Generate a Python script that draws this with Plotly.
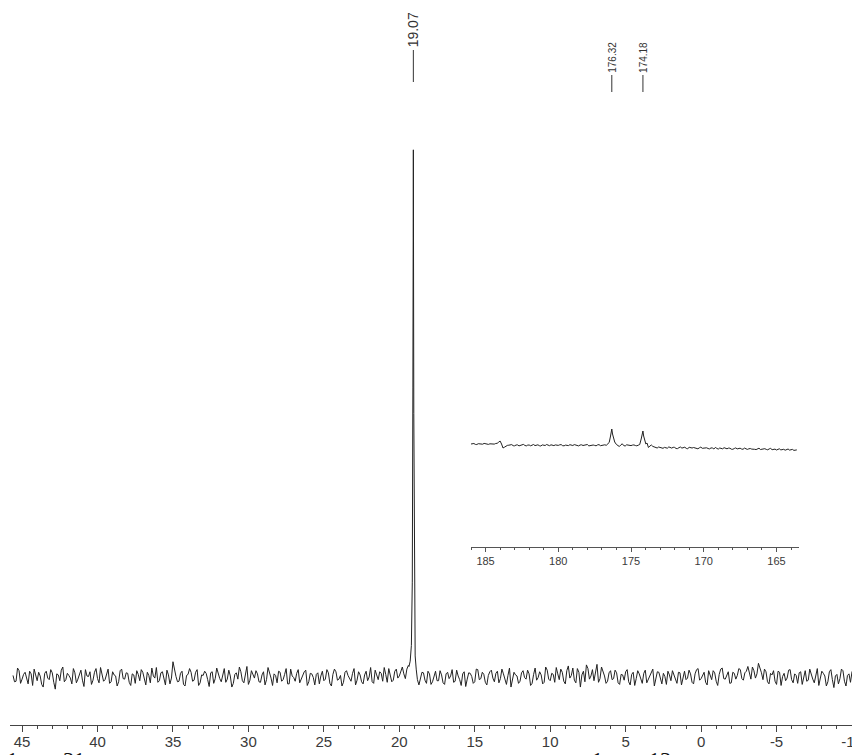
import plotly.graph_objects as go

# ---- main spectrum: hand-read noise on the sampling grid (start, step) ----
main_start = 45.6
main_step = -0.2
main_noise = [
    0.3,-0.8,1.2,-0.4,0.9,-1.3,0.6,1.5,-0.7,0.2,-1.9,1.1,-0.5,0.8,-2.3,0.4,1.3,-0.9,0.7,-0.2,
    1.6,-1.1,0.5,-0.6,1.4,0.1,-1.4,0.9,-0.3,1.8,-0.8,0.6,-1.2,1.0,0.2,-0.9,1.5,-0.4,0.7,-1.6,
    0.4,1.2,-0.7,0.9,-1.5,0.3,1.7,-0.2,-1.0,0.8,-0.5,1.3,-1.3,2.9,0.1,-0.8,1.1,-1.7,0.5,0.9,
    -0.6,1.4,-1.1,0.3,0.7,-1.8,1.0,-0.3,0.5,-0.9,1.6,-0.4,0.2,-1.2,0.8,1.9,-0.7,0.4,-1.4,1.2,
    -0.2,0.6,-1.0,1.0,-0.5,0.9,-1.6,0.3,1.1,-0.8,0.5,-1.3,1.5,-0.1,0.7,-1.1,0.2,1.3,-0.9,0.6,
    -1.5,0.8,0.2,-0.7,1.4,-1.2,0.5,1.0,-0.4,-1.7,0.9,0.3,-0.8,1.6,-0.6,0.4,-1.3,1.1,0.0,-0.9,
    1.3,-0.5,0.7,1.8,-1.0,0.4,-0.6,1.5,0.2,1.9,-0.3,2.2,3.5,0.0,0.0,-0.4,0.8,-1.2,0.6,-0.9,
    1.1,-0.7,0.4,-1.4,0.9,0.2,-1.0,1.3,-0.5,0.6,-1.8,0.8,0.1,-0.9,1.4,-0.3,0.5,-1.5,1.0,-0.2,
    0.7,-1.1,1.5,-0.6,0.3,-1.9,0.9,0.2,-0.8,1.2,-0.4,0.6,-1.2,1.7,-0.1,0.4,-1.0,1.3,-0.7,0.5,
    1.8,-0.5,0.9,-1.3,2.1,0.3,-0.6,1.6,-1.9,1.1,2.3,-0.4,1.4,0.6,-1.0,1.9,0.2,-0.8,1.2,-0.3,
    0.8,-1.4,0.4,1.0,-0.9,0.5,-1.6,1.2,-0.2,0.7,-1.1,0.3,1.5,-0.6,0.9,-1.3,0.1,1.1,-0.7,0.4,
    -1.2,0.8,0.2,-0.5,1.3,-1.0,0.6,1.6,-0.3,0.9,-1.5,0.4,1.2,-0.8,0.5,1.7,-0.4,1.0,-1.1,0.7,
    0.3,1.4,-0.6,1.1,0.5,1.9,-0.2,2.6,0.8,1.5,-0.9,0.7,1.2,-1.4,0.9,0.1,-0.7,1.3,-0.5,0.6,
    -1.2,1.0,0.3,-0.8,1.5,-0.4,0.7,-1.6,1.1,0.2,-0.9,1.4,-2.0,0.5,-0.3,1.2,-1.7,0.6,1.0,-0.4,
    1.4,
]
# intermediate samples (grid offset by half a step)
main_mid_start = 45.5
main_noise_mid = [
    -0.9,1.7,-1.2,0.5,-0.3,1.1,-1.6,0.4,0.9,-1.4,0.7,-0.2,1.4,-1.0,0.6,-0.7,1.9,-0.5,0.3,-1.3,
    0.8,-0.4,1.3,-1.8,0.2,1.0,-0.6,1.6,-1.1,0.3,-0.5,1.5,-0.9,0.4,-1.7,1.2,-0.3,0.8,-1.0,0.6,
    -1.2,0.5,1.4,-0.6,0.9,-1.1,0.2,1.8,-0.7,1.0,-1.5,0.4,-0.2,1.2,-0.9,0.7,-1.4,0.3,1.6,-0.8,
    0.9,-1.6,0.4,1.1,-0.5,0.8,-1.2,1.7,-0.3,0.6,-1.0,1.3,-1.9,0.5,-0.4,1.0,-1.1,2.0,-0.6,0.3,
    1.2,-0.9,0.4,-1.5,1.8,-0.2,0.6,-1.1,0.9,-0.5,1.6,-1.3,0.2,-0.8,1.4,-0.4,1.0,-1.6,0.7,-0.1,
    0.5,-1.3,1.1,-0.4,0.8,-1.7,1.5,-0.6,0.3,-1.0,1.2,-0.3,0.7,-1.5,1.0,-0.9,0.4,-0.7,1.8,-1.2,
    0.4,1.0,-0.8,0.5,1.6,-0.9,1.1,-0.2,1.3,0.6,1.5,0.0,0.0,0.0,-1.5,0.9,-0.6,1.1,-1.4,0.3,
    -0.7,1.2,-1.1,0.6,-0.3,1.4,-0.8,0.2,-1.6,1.0,-0.4,0.7,-1.2,1.5,-0.5,0.9,-1.0,0.3,1.3,-0.9,
    1.1,-0.3,0.6,-1.4,1.7,-0.7,0.4,-1.2,0.8,-0.1,1.3,-1.6,0.5,-0.6,1.0,-1.3,1.9,-0.4,0.7,-1.0,
    0.6,1.5,-0.8,1.2,-0.2,1.7,-1.1,0.9,0.4,-0.9,1.6,0.2,-0.7,2.4,-0.3,1.1,-1.2,0.8,-0.5,1.3,
    -1.1,0.5,-0.6,1.4,-1.5,0.9,-0.3,0.6,-1.2,1.3,-0.4,0.8,-1.7,1.0,-0.2,0.7,-1.4,0.4,1.2,-0.8,
    0.9,-1.5,1.1,-0.2,0.6,-1.3,1.4,-0.6,0.3,-1.0,1.2,-0.5,0.8,-1.6,1.5,-0.3,0.5,-1.2,0.9,-0.4,
    1.6,-0.3,0.8,2.0,-0.4,1.2,0.6,1.8,-0.5,1.0,-1.3,0.4,-0.8,1.1,-1.6,0.7,-0.2,1.4,-1.1,0.3,
    0.8,-1.4,1.2,-0.6,0.4,-1.1,1.6,-0.3,0.7,-1.7,1.0,-0.5,0.2,-1.3,1.5,-0.8,0.3,-1.0,1.3,-0.6,
]
main_peak_ppm = [19.36, 19.28, 19.20, 19.14, 19.10, 19.07, 19.04, 19.00, 18.95, 18.88, 18.80]
main_peak_int = [2.0, 3.0, 6.0, 18.0, 55.0, 100.0, 50.0, 14.0, 4.0, 1.5, -0.5]
main_label = 19.07
main_ticks = [45, 40, 35, 30, 25, 20, 15, 10, 5, 0, -5, -10]
main_ticktext = ["45", "40", "35", "30", "25", "20", "15", "10", "5", "0", "-5", "-10"]

# ---- inset (carbonyl region) ----
inset_start = 186.0
inset_step = -0.2
inset_noise = [
    -1.0,-0.5,-1.5,-0.8,-1.2,-0.6,-1.4,-0.9,-1.1,-0.3,
    2.0,-5.0,-3.0,
    -2.2,-1.6,-2.8,-1.9,-2.5,-1.4,-2.9,-2.0,-1.7,-2.6,-1.8,-3.0,-2.1,-1.5,-2.7,-2.2,-1.9,
    -2.4,-1.6,-2.8,-2.0,-1.7,-2.5,-1.9,-2.9,-1.8,-2.3,-1.5,-2.6,-2.0,-2.8,-1.6,-2.2,
    -1.8,-1.0,
    5.0,4.0,
    -1.5,-3.5,-0.8,-3.0,-2.0,-2.6,-1.9,-2.8,
    -2.0,0.0,0.0,
    -4.5,-2.0,-3.8,-5.0,
    -4.2,-5.3,-4.6,-3.9,-5.1,-4.4,-5.6,-4.0,-4.9,-5.4,-4.3,-5.0,-4.7,-5.8,-4.1,-5.2,
    -4.8,-5.9,-5.0,-4.4,-6.1,-5.3,-4.7,-5.8,-5.2,-6.3,-4.9,-5.6,-6.0,-5.1,-6.4,-5.5,
    -5.9,-6.6,-5.2,-6.2,-5.7,-6.8,-5.4,-6.3,-7.0,-5.8,-6.5,-7.2,-6.0,-6.7,-7.4,-6.9,
]
inset_mid_start = 185.9
inset_noise_mid = [
    -0.6,-1.4,-0.7,-1.3,-0.4,-1.5,-0.8,-1.2,-0.5,0.8,
    -1.0,-4.2,-2.4,
    -1.7,-2.7,-2.0,-2.9,-1.6,-2.4,-2.1,-2.8,-1.5,-2.3,-2.7,-1.9,-2.5,-2.0,-1.8,-2.6,-2.3,
    -1.8,-2.7,-2.1,-2.6,-2.2,-1.6,-2.8,-2.0,-2.5,-1.7,-2.9,-2.1,-2.4,-1.9,-2.7,-2.0,
    -2.3,-1.4,
    0.0,0.0,
    -2.8,-1.9,-2.6,-1.8,-2.9,-2.1,-2.5,-2.2,
    0.0,0.0,0.0,
    -3.0,-3.4,-4.6,-4.0,
    -5.0,-4.4,-5.2,-4.8,-4.3,-5.5,-4.6,-5.1,-4.2,-5.7,-4.9,-4.5,-5.6,-4.8,-5.3,-4.6,
    -5.5,-4.9,-6.0,-5.4,-5.0,-5.8,-5.6,-5.1,-6.2,-5.5,-5.9,-5.2,-6.3,-5.7,-5.8,-6.1,
    -6.3,-5.6,-6.5,-6.0,-6.4,-5.9,-6.7,-6.1,-6.2,-6.9,-6.3,-6.6,-7.1,-6.4,-6.8,
]
inset_peak_ppm = [176.50, 176.42, 176.36, 176.32, 176.27, 176.20, 176.12,
                  174.40, 174.30, 174.23, 174.18, 174.13, 174.06, 173.98]
inset_peak_int = [0.5, 6.0, 12.0, 14.0, 9.0, 4.0, 1.0,
                  -1.5, 4.0, 10.0, 12.0, 7.0, 2.0, -1.0]
inset_labels = [176.32, 174.18]
inset_ticks = [185, 180, 175, 170, 165]


def merge(series, pk_x, pk_y, centers, win):
    pts = []
    for start, step, vals in series:
        for i, v in enumerate(vals):
            x = start + step * i
            if all(abs(x - c) > win for c in centers):
                pts.append((x, v))
    pts += list(zip(pk_x, pk_y))
    pts.sort(key=lambda p: -p[0])
    return [p[0] for p in pts], [p[1] for p in pts]


mx, my = merge([(main_start, main_step, main_noise), (main_mid_start, main_step, main_noise_mid)],
               main_peak_ppm, main_peak_int, [main_label], 0.3)
ix, iy = merge([(inset_start, inset_step, inset_noise), (inset_mid_start, inset_step, inset_noise_mid)],
               inset_peak_ppm, inset_peak_int, inset_labels, 0.25)

# page body has an 8px margin: the figure occupies page pixels 8..860 x 8..755
OFF = 8
W, H = 860 - OFF, 755 - OFF


def pxx(p):  # page pixel column -> paper x
    return (p - OFF) / W


def py(p):  # page pixel row -> paper y
    return (755 - p) / H


line_col = "#222222"
fig = go.Figure()
fig.add_trace(go.Scatter(x=mx, y=my, mode="lines", line=dict(color=line_col, width=1),
                         xaxis="x", yaxis="y", showlegend=False, hoverinfo="skip"))
fig.add_trace(go.Scatter(x=ix, y=iy, mode="lines", line=dict(color=line_col, width=1),
                         xaxis="x2", yaxis="y2", showlegend=False, hoverinfo="skip"))

tickfont = dict(family="Liberation Sans, Arial", size=15, color="#3a3a3a")
fig.update_layout(
    width=W, height=H, margin=dict(l=0, r=0, t=0, b=0, autoexpand=False),
    paper_bgcolor="white", plot_bgcolor="white",
    xaxis=dict(domain=[pxx(10), 1.0], range=[45.8, -10.53], showgrid=False, zeroline=False,
               automargin=False,
               showline=True, linecolor="#444", linewidth=1,
               ticks="outside", ticklen=6, tickcolor="#444",
               tickvals=main_ticks, ticktext=main_ticktext,
               ticklabeloverflow="allow", ticklabelstandoff=-3,
               minor=dict(dtick=1, tick0=0, ticks="outside", ticklen=3, tickcolor="#444"),
               tickfont=tickfont, anchor="y"),
    yaxis=dict(domain=[py(725), 1.0], range=[-9.1, 126.9], visible=False, automargin=False),
    xaxis2=dict(domain=[pxx(471), pxx(799)], range=[186.0, 163.45], showgrid=False, zeroline=False,
                automargin=False,
                showline=True, linecolor="#555", linewidth=1,
                ticks="outside", ticklen=4, tickcolor="#555",
                tickvals=inset_ticks, ticktext=[str(t) for t in inset_ticks],
                minor=dict(dtick=1, tick0=0, ticks="outside", ticklen=2, tickcolor="#555"),
                tickfont=dict(family="Liberation Sans, Arial", size=11, color="#3a3a3a"),
                anchor="y2"),
    yaxis2=dict(domain=[py(547), py(415)], range=[-104, 28], visible=False, automargin=False),
)

# peak labels
fig.add_annotation(x=main_label, xref="x", y=py(30), yref="paper", text=f"{main_label:.2f}",
                   textangle=-90, showarrow=False, xanchor="center", yanchor="middle",
                   font=dict(family="Liberation Sans, Arial", size=14, color="#333"))
fig.add_shape(type="line", xref="x", yref="paper", x0=main_label, x1=main_label,
              y0=py(50), y1=py(82), line=dict(color="#333", width=1))
for lab in inset_labels:
    fig.add_annotation(x=lab, xref="x2", y=py(57), yref="paper", text=f"{lab:.2f}",
                       textangle=-90, showarrow=False, xanchor="center", yanchor="middle",
                       font=dict(family="Liberation Sans, Arial", size=10, color="#333"))
    fig.add_shape(type="line", xref="x2", yref="paper", x0=lab, x1=lab,
                  y0=py(75), y1=py(92), line=dict(color="#333", width=1))

# caption fragments cut off at the page bottom
for xp, txt in [(12, "1"), (74, "31"), (597, "1"), (660, "13")]:
    fig.add_annotation(x=pxx(xp), xref="paper", y=py(745), yref="paper",
                       xanchor="center", yanchor="top", text=txt, showarrow=False,
                       font=dict(family="Liberation Serif, Times New Roman", size=22, color="#111"))

fig.write_html("out.html")
